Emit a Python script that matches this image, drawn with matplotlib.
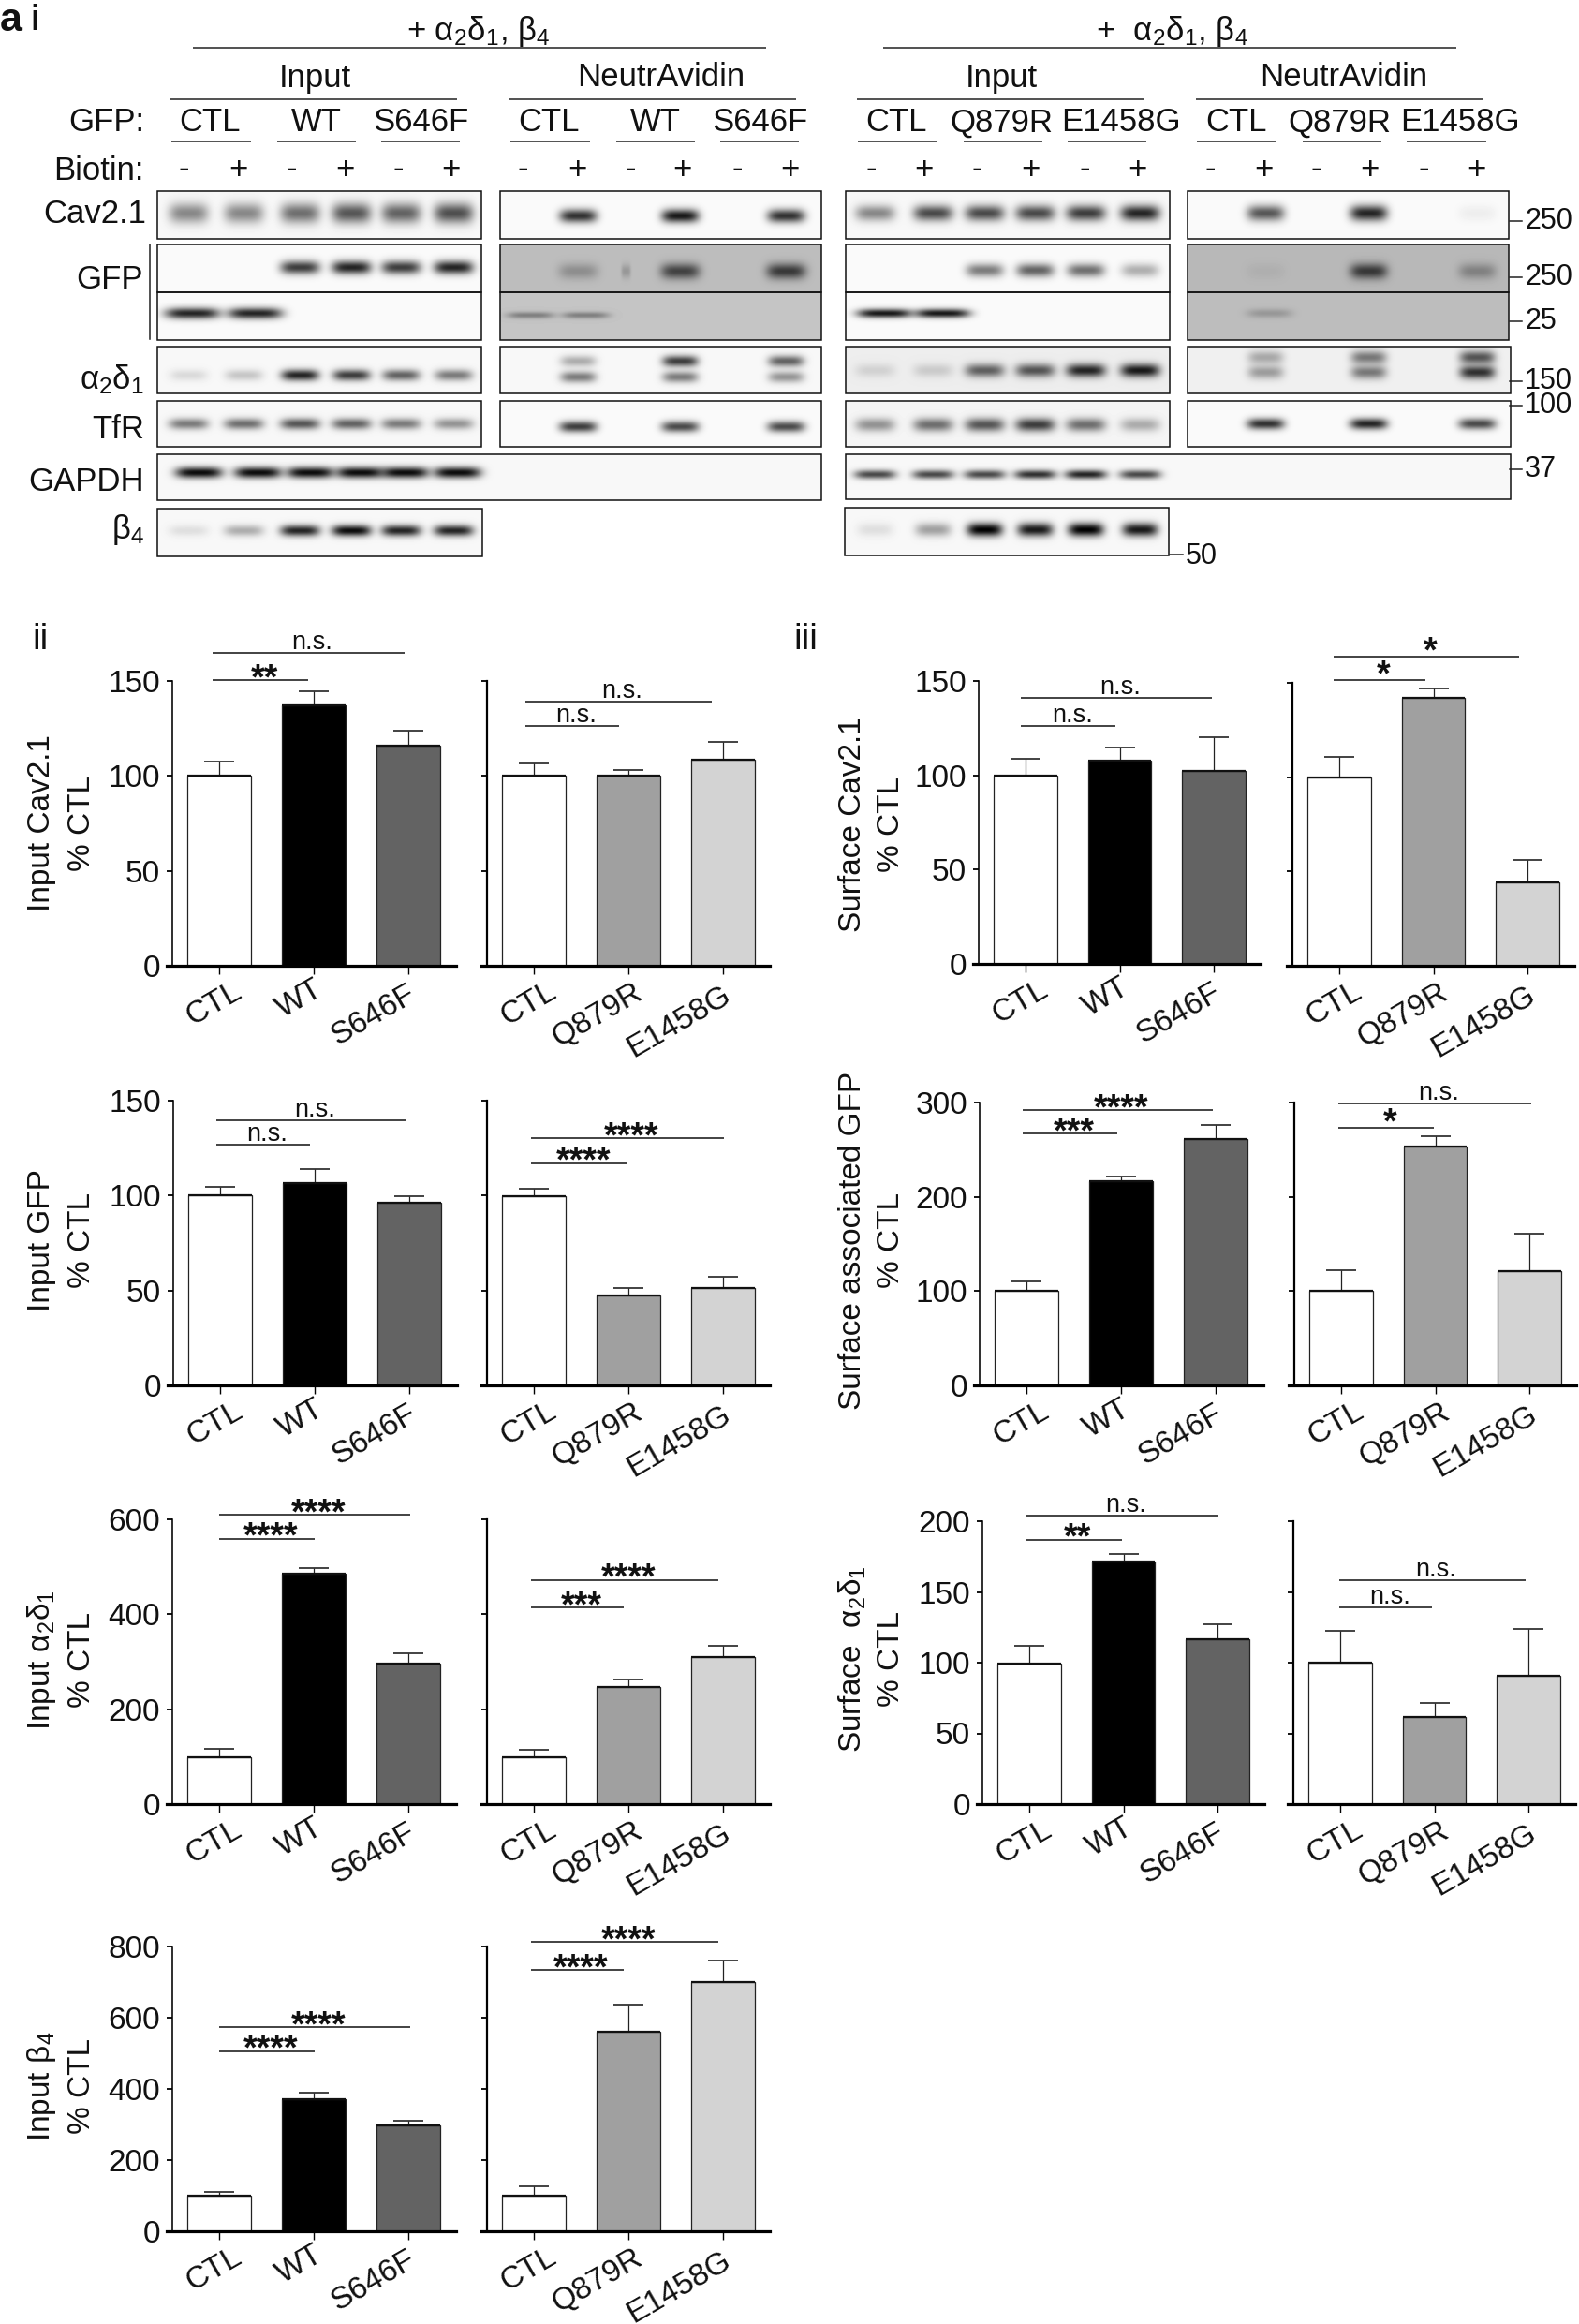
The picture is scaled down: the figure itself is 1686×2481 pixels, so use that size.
import matplotlib
matplotlib.use("Agg")
import matplotlib.pyplot as plt
from matplotlib.patches import Rectangle
import numpy as np

plt.rcParams['font.family'] = ['Liberation Sans', 'DejaVu Sans']
plt.rcParams['mathtext.fontset'] = 'custom'
plt.rcParams['mathtext.rm'] = 'Liberation Sans'
plt.rcParams['mathtext.default'] = 'regular'

W, H = 1686, 2481
FS = 24
HEAD_FS = 25

# bar chart data
wt_labels = ["CTL", "WT", "S646F"]
mut_labels = ["CTL", "Q879R", "E1458G"]
wt_colors = ["white", "black", "#636363"]
mut_colors = ["white", "#a0a0a0", "#d3d3d3"]

input_cav_wt = [100, 137.4, 116]
input_cav_wt_top = [107.4, 144.5, 124]
input_cav_mut = [100, 100, 108.4]
input_cav_mut_top = [106.6, 103.3, 118]
input_gfp_wt = [100, 106.5, 96.4]
input_gfp_wt_top = [104.5, 114.2, 99.9]
input_gfp_mut = [99.6, 47.3, 51.3]
input_gfp_mut_top = [103.5, 51.4, 57.2]
input_a2d_wt = [99, 485, 297]
input_a2d_wt_top = [116, 498, 318]
input_a2d_mut = [99, 246, 310]
input_a2d_mut_top = [114.5, 263, 334]
input_b4_wt = [99, 370, 298]
input_b4_wt_top = [110, 390, 311]
input_b4_mut = [99, 561, 701]
input_b4_mut_top = [126, 636, 761]
surf_cav_wt = [100, 107.7, 102.5]
surf_cav_wt_top = [108.7, 114.7, 120.3]
surf_cav_mut = [99.9, 142, 44.3]
surf_cav_mut_top = [110.8, 147, 56.2]
surf_gfp_wt = [100, 217, 261.6]
surf_gfp_wt_top = [110, 222, 276.5]
surf_gfp_mut = [100, 253, 121.5]
surf_gfp_mut_top = [122, 264, 161]
surf_a2d_wt = [99.6, 171.8, 116.3]
surf_a2d_wt_top = [112, 176.6, 127]
surf_a2d_mut = [100, 61.5, 90.5]
surf_a2d_mut_top = [122.5, 71.6, 124]

# significance lines: start, end, height, label
sig_input_cav_wt = [(-0.07, 1.96, 165, "n.s."), (-0.07, 0.94, 150.4, "**")]
sig_input_cav_mut = [(-0.09, 1.88, 138.9, "n.s."), (-0.09, 0.90, 126.2, "n.s.")]
sig_input_gfp_wt = [(-0.04, 1.97, 139.6, "n.s."), (-0.04, 0.95, 127, "n.s.")]
sig_input_gfp_mut = [(-0.03, 2.01, 130.1, "****"), (-0.03, 0.995, 117.1, "****")]
sig_input_a2d_wt = [(0, 2.02, 609, "****"), (0, 1.01, 559, "****")]
sig_input_a2d_mut = [(-0.03, 1.95, 472, "****"), (-0.03, 0.95, 414, "***")]
sig_input_b4_wt = [(0, 2.02, 573, "****"), (0, 1.01, 506, "****")]
sig_input_b4_mut = [(-0.03, 1.95, 812, "****"), (-0.03, 0.95, 734, "****")]
sig_surf_cav_wt = [(-0.05, 1.98, 140.9, "n.s."), (-0.05, 0.96, 126.1, "n.s.")]
sig_surf_cav_mut = [(-0.06, 1.91, 164, "*"), (-0.06, 0.92, 151.5, "*")]
sig_surf_gfp_wt = [(-0.04, 1.97, 292, "****"), (-0.04, 0.965, 267, "***")]
sig_surf_gfp_mut = [(-0.03, 2.02, 299, "n.s."), (-0.03, 0.99, 273, "*")]
sig_surf_a2d_wt = [(-0.04, 2.01, 203.7, "n.s."), (-0.04, 0.99, 187, "**")]
sig_surf_a2d_mut = [(-0.01, 1.97, 158, "n.s."), (-0.01, 0.98, 138.8, "n.s.")]

# blot band strengths, one number per lane
lanes_l_in = [201, 260, 320, 375, 428, 484]
lanes_l_na = [617, 726, 839]
lanes_r_in = [934, 996, 1051, 1105, 1159, 1217]
lanes_r_na = [1351, 1461, 1577]

cav_l_in = [.45, .45, .55, .65, .6, .68]
gfp_l_in = [0, 0, .75, .85, .75, .85]
a2d_l_in = [.12, .2, .85, .75, .6, .5]
tfr_l_in = [.5, .55, .65, .6, .5, .4]
gapdh_l_in = [.95, .95, .95, .95, .95, .95]
b4_l_in = [.1, .3, .85, .95, .85, .85]
cav_l_na = [.8, .9, .8]
gfp_l_na = [.25, .65, .7]
a2d_l_na_upper = [.3, .75, .6]
a2d_l_na_lower = [.5, .5, .4]
tfr_l_na = [.75, .7, .7]
cav_r_in = [.45, .7, .7, .7, .75, .85]
gfp_r_in = [0, 0, .5, .6, .55, .3]
a2d_r_in = [.12, .15, .6, .65, .85, .9]
tfr_r_in = [.4, .55, .65, .75, .55, .3]
gapdh_r_in = [.7, .7, .7, .8, .85, .7]
b4_r_in = [.1, .35, 1, .9, 1, .9]
cav_r_na = [.65, .85, .05]
gfp_r_na = [.05, .7, .3]
a2d_r_na_upper = [.3, .5, .65]
a2d_r_na_lower = [.35, .5, .8]
tfr_r_na = [.8, .85, .7]

fig = plt.figure(figsize=(W / 100, H / 100), dpi=100, facecolor="white")
ov = fig.add_axes([0, 0, 1, 1], zorder=5)
ov.patch.set_alpha(0)
ov.axis("off")


def band_layer(img, x0, y0, lanes, strengths, y, hw, hh):
    rows, cols = img.shape
    xx, yy = np.meshgrid(np.arange(cols) + x0, np.arange(rows) + y0)
    for lane, s in zip(lanes, strengths):
        shape = np.exp(-((xx - lane) / hw) ** 4) * np.exp(-((yy - y) / (hh * 1.2)) ** 2)
        img *= 1 - s * shape
    return img


def blot(box, bg, bands):
    x0, x1, y0, y1 = box
    img = np.full((int(y1 - y0), int(x1 - x0)), float(bg))
    for lanes, strengths, y, hw, hh in bands:
        img = band_layer(img, x0, y0, lanes, strengths, y, hw, hh)
    ov.imshow(img, cmap="gray", vmin=0, vmax=1, extent=(x0, x1, y1, y0),
              aspect="auto", interpolation="bilinear")
    ov.add_patch(Rectangle((x0, y0), x1 - x0, y1 - y0, fill=False, ec="#111111", lw=1.1))


# left input panels
blot((168, 514, 204, 255), .97, [(lanes_l_in, cav_l_in, 227, 21, 9)])
blot((168, 514, 261, 312), .98, [(lanes_l_in, gfp_l_in, 285, 21, 6)])
blot((168, 514, 312, 363), .98, [([205, 272], [.85, .85], 334, 29, 5)])
blot((168, 514, 370, 420), .97, [(lanes_l_in, a2d_l_in, 400, 20, 5)])
blot((168, 514, 428, 477), .97, [(lanes_l_in, tfr_l_in, 452, 21, 5)])
blot((168, 877, 485, 534), .97, [([212, 275, 331, 384, 432, 488], gapdh_l_in, 504, 25, 5)])
blot((168, 515, 543, 594), .97, [(lanes_l_in, b4_l_in, 566, 21, 5)])
# left neutravidin panels
blot((534, 877, 204, 255), .98, [(lanes_l_na, cav_l_na, 230, 20, 6)])
blot((534, 877, 261, 312), .74, [(lanes_l_na, gfp_l_na, 289, 21, 7), ([668], [.2], 289, 5, 6)])
blot((534, 877, 312, 363), .77, [([566, 625], [.35, .35], 336, 25, 3)])
blot((534, 877, 370, 420), .97, [(lanes_l_na, a2d_l_na_upper, 385, 19, 5), (lanes_l_na, a2d_l_na_lower, 402, 19, 5)])
blot((534, 877, 428, 477), .98, [(lanes_l_na, tfr_l_na, 455, 20, 5)])
# right input panels
blot((903, 1249, 204, 255), .97, [(lanes_r_in, cav_r_in, 227, 21, 7)])
blot((903, 1249, 261, 312), .98, [(lanes_r_in, gfp_r_in, 288, 20, 6)])
blot((903, 1249, 312, 363), .98, [([944, 1006], [.9, .9], 334, 29, 4)])
blot((903, 1249, 370, 420), .93, [(lanes_r_in, a2d_r_in, 395, 21, 6)])
blot((903, 1249, 428, 477), .96, [(lanes_r_in, tfr_r_in, 453, 21, 6)])
blot((903, 1613, 485, 533), .97, [(lanes_r_in, gapdh_r_in, 506, 22, 4)])
blot((902, 1248, 542, 593), .97, [(lanes_r_in, b4_r_in, 565, 19, 6)])
# right neutravidin panels
blot((1268, 1611, 204, 255), .98, [(lanes_r_na, cav_r_na, 227, 20, 7)])
blot((1268, 1611, 261, 312), .72, [(lanes_r_na, gfp_r_na, 289, 20, 7)])
blot((1268, 1611, 312, 363), .74, [([1355], [.2], 334, 24, 4)])
blot((1268, 1613, 370, 420), .94, [(lanes_r_na, a2d_r_na_upper, 381, 19, 6), (lanes_r_na, a2d_r_na_lower, 397, 19, 6)])
blot((1268, 1613, 428, 477), .98, [(lanes_r_na, tfr_r_na, 452, 20, 5)])

ov.set_xlim(0, W)
ov.set_ylim(H, 0)


def txt(x, y, s, ha="center", **kw):
    ov.text(x, y, s, ha=ha, va="center", fontsize=kw.pop("fontsize", HEAD_FS), color="#111111", **kw)


def rule(x0, x1, y, lw=1.1):
    ov.plot([x0, x1], [y, y], color="#222222", lw=lw, solid_capstyle="butt")


txt(0, 22, "a", ha="left", fontweight="bold", fontsize=31)
txt(37, 22, "i", fontsize=28)
txt(511, 33, r"+ $α_2δ_1$, $β_4$")
txt(1252, 33, r"+  $α_2δ_1$, $β_4$")
rule(206, 818, 51)
rule(943, 1555, 51)

for x, s in [(336, "Input"), (706, "NeutrAvidin"), (1069, "Input"), (1435, "NeutrAvidin")]:
    txt(x, 83, s)
for a, b in [(182, 488), (544, 850), (915, 1222), (1277, 1584)]:
    rule(a, b, 106)

group_x = [224, 338, 450, 586, 700, 812, 957, 1069, 1197, 1320, 1430, 1559]
group_names = ["CTL", "WT", "S646F"] * 2 + ["CTL", "Q879R", "E1458G"] * 2
for x, s in zip(group_x, group_names):
    txt(x, 131, s)
underlines = [(183, 268), (296, 380), (407, 491), (545, 630), (658, 742), (769, 853),
              (916, 1001), (1029, 1113), (1140, 1224), (1278, 1363), (1391, 1475), (1502, 1587)]
for a, b in underlines:
    rule(a, b, 151)

biotin_x = [196, 254, 311, 368, 425, 481, 558, 616, 673, 728, 787, 843,
            930, 986, 1043, 1100, 1158, 1214, 1292, 1349, 1405, 1462, 1520, 1576]
for i, x in enumerate(biotin_x):
    txt(x, 181, "-" if i % 2 == 0 else "+")

txt(154, 131, "GFP:", ha="right")
txt(154, 182, "Biotin:", ha="right")
txt(156, 228, "Cav2.1", ha="right")
txt(153, 299, "GFP", ha="right")
txt(154, 405, r"$α_2δ_1$", ha="right")
txt(154, 459, "TfR", ha="right")
txt(154, 514, "GAPDH", ha="right")
txt(154, 565, r"$β_4$", ha="right")
ov.plot([160, 160], [261, 362], color="#222222", lw=1.1)

mw_labels = [("250", 236), ("250", 296), ("25", 343), ("150", 407), ("100", 433), ("37", 501)]
for s, y in mw_labels:
    ov.plot([1612, 1625], [y, y], color="#222222", lw=1.1)
    txt(1628, y, s, ha="left", fontsize=22)
ov.plot([1249, 1263], [592, 592], color="#222222", lw=1.1)
txt(1266, 594, "50", ha="left", fontsize=22)

txt(43, 683, "ii", fontsize=28)
txt(860, 683, "iii", fontsize=28)

# where each rotated label ends relative to its tick, in pixels
label_ends = {"CTL": (22, 25), "WT": (8, 23), "S646F": (6, 28), "Q879R": (13, 27), "E1458G": (6, 29)}


def bar_chart(c0, c2, top, bottom, ymax, yticks, labels, colors, vals, tops, sigs, show_y, spine_lw):
    left = c0 - (c2 - c0) / 4
    right = c2 + (c2 - c0) / 4
    ax = fig.add_axes([left / W, 1 - bottom / H, (right - left) / W, (bottom - top) / H], zorder=3)
    ax.patch.set_alpha(0)
    xs = np.arange(3)
    ax.bar(xs, vals, width=0.67, color=colors, edgecolor="#222222", linewidth=0.9, zorder=2)
    ax.hlines(vals, xs - 0.335, xs + 0.335, color="#111111", lw=1.6, zorder=3)
    lower = np.zeros(3)
    upper = np.array(tops) - np.array(vals)
    ax.errorbar(xs, vals, yerr=[lower, upper], fmt="none", ecolor="#222222", elinewidth=0.9,
                capsize=11.5, capthick=1.2, zorder=1)
    ax.set_xlim(-0.5, 2.5)
    ax.set_ylim(0, ymax)
    for side in ("top", "right"):
        ax.spines[side].set_visible(False)
    ax.spines["left"].set_linewidth(spine_lw)
    ax.spines["bottom"].set_linewidth(2.3)
    ax.spines["bottom"].set_bounds(-0.556, 2.5)
    ax.spines["bottom"].set_zorder(6)
    ax.set_yticks(yticks)
    ax.set_xticks(xs)
    ax.set_xticklabels([])
    if show_y:
        ax.set_yticklabels([str(t) for t in yticks])
    else:
        ax.set_yticklabels([])
    ax.tick_params(axis="y", length=4, width=1.3, pad=5, labelsize=FS, labelcolor="#111111")
    ax.tick_params(axis="x", length=6.5, width=1)
    for i, s in enumerate(labels):
        dx, dy = label_ends[s]
        ax.annotate(s, (i, 0), xytext=(dx * 0.72, -dy * 0.72), textcoords="offset points",
                    rotation=30, rotation_mode="anchor", ha="right", va="center",
                    fontsize=FS, color="#111111", annotation_clip=False)
    for x0, x1, y, s in sigs:
        ax.plot([x0, x1], [y, y], color="#222222", lw=1.2, clip_on=False, solid_capstyle="butt")
        mid = (x0 + x1) / 2 + 0.04
        if s == "n.s.":
            ax.annotate(s, (mid, y), xytext=(0, 4 * 0.72), textcoords="offset points", ha="center",
                        va="baseline", fontsize=19.5, color="#111111", annotation_clip=False)
        else:
            off = -5.5 if s == "*" else -9
            ax.annotate(s, (mid, y), xytext=(0, off * 0.72), textcoords="offset points", ha="center",
                        va="baseline", fontsize=27, fontweight="bold", color="#111111", annotation_clip=False)
    return ax


def two_line_label(x1, x2, y, first, second="% CTL"):
    fig.text(x1 / W, 1 - y / H, first, rotation=90, ha="center", va="center", fontsize=FS, color="#111111")
    fig.text(x2 / W, 1 - y / H, second, rotation=90, ha="center", va="center", fontsize=FS, color="#111111")


t50 = [0, 50, 100, 150]
t100 = [0, 100, 200, 300]
t200 = [0, 200, 400, 600]
t200b = [0, 200, 400, 600, 800]
t50b = [0, 50, 100, 150, 200]

# left column
bar_chart(234, 436, 727, 1031, 150, t50, wt_labels, wt_colors, input_cav_wt, input_cav_wt_top, sig_input_cav_wt, True, 1.15)
bar_chart(570, 772, 727, 1031, 150, t50, mut_labels, mut_colors, input_cav_mut, input_cav_mut_top, sig_input_cav_mut, False, 1.6)
bar_chart(235, 437, 1175, 1479, 150, t50, wt_labels, wt_colors, input_gfp_wt, input_gfp_wt_top, sig_input_gfp_wt, True, 1.15)
bar_chart(570, 772, 1175, 1479, 150, t50, mut_labels, mut_colors, input_gfp_mut, input_gfp_mut_top, sig_input_gfp_mut, False, 1.6)
bar_chart(234, 436, 1622, 1926, 600, t200, wt_labels, wt_colors, input_a2d_wt, input_a2d_wt_top, sig_input_a2d_wt, True, 1.15)
bar_chart(570, 772, 1622, 1926, 600, t200, mut_labels, mut_colors, input_a2d_mut, input_a2d_mut_top, sig_input_a2d_mut, False, 1.6)
bar_chart(234, 436, 2078, 2382, 800, t200b, wt_labels, wt_colors, input_b4_wt, input_b4_wt_top, sig_input_b4_wt, True, 1.15)
bar_chart(570, 772, 2078, 2382, 800, t200b, mut_labels, mut_colors, input_b4_mut, input_b4_mut_top, sig_input_b4_mut, False, 1.6)

# right column
bar_chart(1095, 1296, 727, 1029, 150, t50, wt_labels, wt_colors, surf_cav_wt, surf_cav_wt_top, sig_surf_cav_wt, True, 1.15)
bar_chart(1430, 1631, 729, 1031, 150, t50, mut_labels, mut_colors, surf_cav_mut, surf_cav_mut_top, sig_surf_cav_mut, False, 1.6)
bar_chart(1096, 1298, 1177, 1479, 300, t100, wt_labels, wt_colors, surf_gfp_wt, surf_gfp_wt_top, sig_surf_gfp_wt, True, 1.15)
bar_chart(1432, 1633, 1177, 1479, 300, t100, mut_labels, mut_colors, surf_gfp_mut, surf_gfp_mut_top, sig_surf_gfp_mut, False, 1.6)
bar_chart(1099, 1300, 1624, 1926, 200, t50b, wt_labels, wt_colors, surf_a2d_wt, surf_a2d_wt_top, sig_surf_a2d_wt, True, 1.15)
bar_chart(1431, 1632, 1624, 1926, 200, t50b, mut_labels, mut_colors, surf_a2d_mut, surf_a2d_mut_top, sig_surf_a2d_mut, False, 1.6)

two_line_label(45, 88, 879, "Input Cav2.1")
two_line_label(45, 88, 1324, "Input GFP")
two_line_label(45, 88, 1772, r"Input $α_2δ_1$")
two_line_label(45, 88, 2227, r"Input $β_4$")
two_line_label(910, 951, 880, "Surface Cav2.1")
two_line_label(910, 951, 1324, "Surface associated GFP")
two_line_label(910, 951, 1771, r"Surface  $α_2δ_1$")

fig.savefig("out.png", dpi=100)
